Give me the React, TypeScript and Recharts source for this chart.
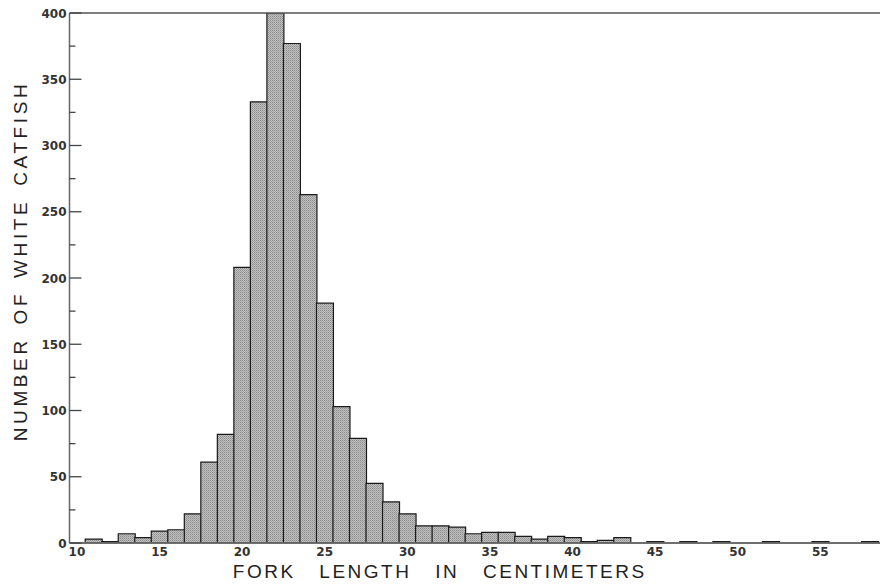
import { BarChart, Bar, XAxis, YAxis, ReferenceLine, Label } from 'recharts';

// fork length (cm) and number of white catfish in each 1 cm class
const lengths = [
  11, 12, 13, 14, 15, 16, 17, 18, 19, 20, 21, 22, 23, 24, 25, 26, 27, 28, 29, 30,
  31, 32, 33, 34, 35, 36, 37, 38, 39, 40, 41, 42, 43, 44, 45, 46, 47, 48, 49, 50,
  51, 52, 53, 54, 55, 56, 57, 58,
];
const counts = [
  3, 1, 7, 4, 9, 10, 22, 61, 82, 208, 333, 400, 377, 263, 181, 103, 79, 45, 31, 22,
  13, 13, 12, 7, 8, 8, 5, 3, 5, 4, 1, 2, 4, 0, 1, 0, 1, 0, 1, 0,
  0, 1, 0, 0, 1, 0, 0, 1,
];

const lengthTicks = [10, 15, 20, 25, 30, 35, 40, 45, 50, 55];
const countTicks = [0, 25, 50, 75, 100, 125, 150, 175, 200, 225, 250, 275, 300, 325, 350, 375, 400];
// unlabeled percent scale on the right edge (cut off by the page border)
const percentTicks = [3, 4, 5, 6, 7, 8, 9, 10, 11, 12, 13, 14, 15, 16, 17];

const data = lengths.map((len, i) => ({ len, count: counts[i] }));

const tickFont = { fontFamily: 'DejaVu Sans', fontSize: 12, fontWeight: 'bold' as const, fill: '#333' };
const xTitleFont = { fontFamily: 'Liberation Sans', fontSize: 19, fill: '#222', letterSpacing: 2.5, wordSpacing: 16 };
const yTitleFont = { fontFamily: 'Liberation Sans', fontSize: 19, fill: '#222', letterSpacing: 3.6, wordSpacing: 4 };

const CountTick = (props: any) => {
  const { x, y, payload } = props;
  const axisX = x + 3;
  const major = payload.value % 50 === 0;
  return (
    <g>
      <line x1={axisX} x2={axisX + (major ? 12 : 6)} y1={y} y2={y} stroke="#444" strokeWidth={1.3} />
      {major && (
        <text x={x} y={y} dy={4.5} textAnchor="end" {...tickFont}>
          {payload.value}
        </text>
      )}
    </g>
  );
};

export default function App() {
  return (
    <div style={{ width: 880, height: 576, overflow: 'hidden', background: '#fff' }}>
      <BarChart
        width={880}
        height={576}
        data={data}
        margin={{ top: 5, right: 0, bottom: 0, left: 0 }}
        barCategoryGap={0}
        barGap={0}
      >
        <defs>
          <pattern id="stipple" width="2" height="2" patternUnits="userSpaceOnUse">
            <rect width="2" height="2" fill="#c2c2c2" />
            <rect width="1" height="1" fill="#8a8a8a" />
            <rect x="1" y="1" width="1" height="1" fill="#a0a0a0" />
          </pattern>
        </defs>
        <XAxis
          dataKey="len"
          type="number"
          domain={[9.55, 59.1]}
          allowDataOverflow
          ticks={lengthTicks}
          tickLine={false}
          tickSize={0}
          tickMargin={4}
          height={41}
          axisLine={{ stroke: '#666', strokeWidth: 1.5 }}
          tick={tickFont}
        >
          <Label value="FORK LENGTH IN CENTIMETERS" position="insideBottom" offset={6} dx={-39} style={xTitleFont} />
        </XAxis>
        <YAxis
          domain={[0, 400]}
          allowDataOverflow
          ticks={countTicks}
          interval={0}
          width={61.5}
          tickLine={false}
          tickSize={0}
          tickMargin={3}
          axisLine={{ stroke: '#666', strokeWidth: 1.5 }}
          tick={<CountTick />}
        >
          <Label
            value="NUMBER OF WHITE CATFISH"
            angle={-90}
            position="insideLeft"
            offset={12}
            dy={-17}
            style={{ ...yTitleFont, textAnchor: 'middle' }}
          />
        </YAxis>
        <YAxis
          yAxisId="pct"
          type="number"
          orientation="right"
          mirror
          width={2}
          domain={[0, 17.9]}
          allowDataOverflow
          ticks={percentTicks}
          interval={0}
          tickLine={{ stroke: '#444', strokeWidth: 1.4 }}
          tickSize={6}
          tick={false}
          axisLine={false}
        />
        <ReferenceLine yAxisId="pct" y={0} stroke="#666" strokeWidth={1.5} />
        <ReferenceLine y={400} stroke="#555" strokeWidth={1.3} />
        <Bar
          dataKey="count"
          fill="url(#stipple)"
          stroke="#1a1a1a"
          strokeWidth={1.2}
          isAnimationActive={false}
        />
      </BarChart>
    </div>
  );
}
